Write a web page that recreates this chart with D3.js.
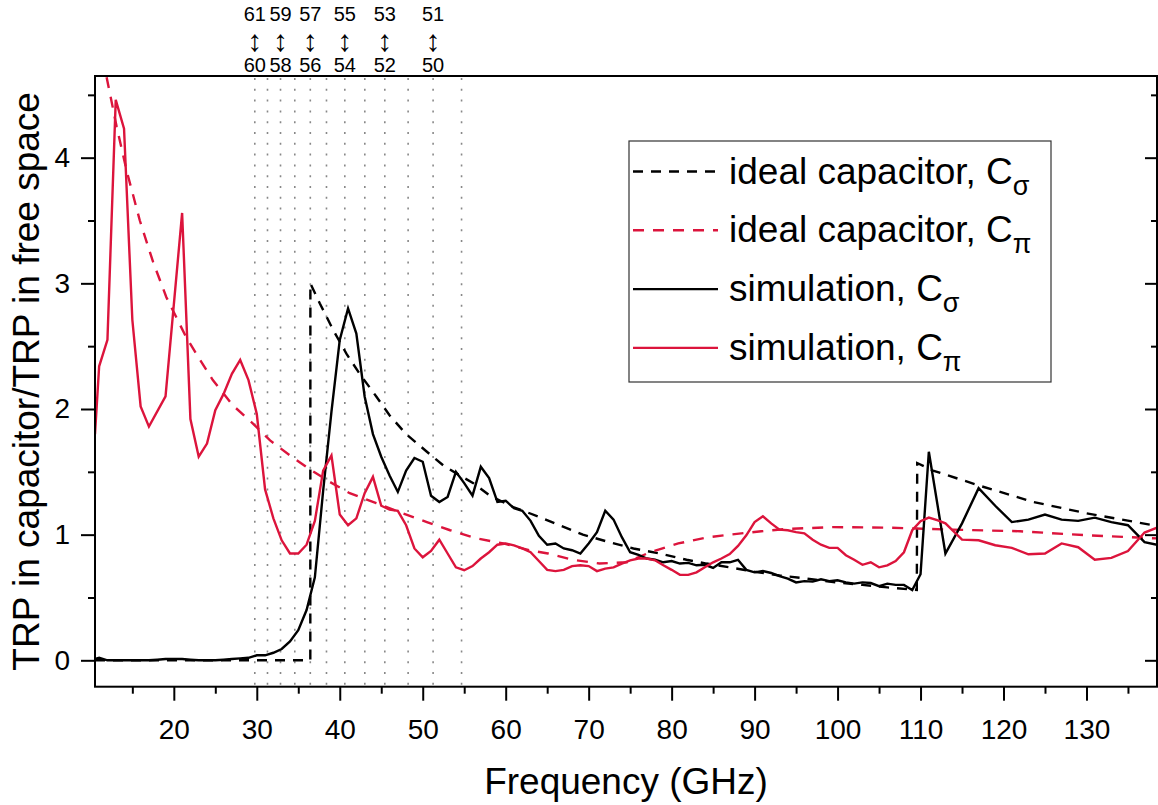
<!DOCTYPE html>
<html><head><meta charset="utf-8">
<script src="https://cdn.jsdelivr.net/npm/d3@7"></script>
<style>body{margin:0;background:#fff} svg text{font-family:"Liberation Sans",Arial,sans-serif;fill:#000}</style>
</head><body><svg id="c" width="1158" height="805"></svg>
<script>
// ---------- data ----------
const idealSigmaFreq = [10.5, 20, 30, 36.45, 36.46, 37.6, 39.2, 40.8, 42.4, 44.4, 46.0, 48.0, 50.5, 52.5, 54.5, 56.1, 58.1, 60.9, 64.1, 66.5, 69.3, 72.5, 75.4, 78.6, 81.8, 84.2, 87.0, 90, 93, 96.3, 99.9, 103, 106, 109.55, 109.6, 111.5, 117.1, 123.6, 130.0, 138.5];
const idealSigmaVal  = [0, 0, 0, 0, 3.0, 2.84, 2.63, 2.44, 2.28, 2.10, 1.95, 1.80, 1.66, 1.55, 1.47, 1.41, 1.31, 1.22, 1.14, 1.075, 1.0, 0.94, 0.89, 0.85, 0.80, 0.77, 0.74, 0.705, 0.675, 0.65, 0.62, 0.60, 0.58, 0.56, 1.57, 1.51, 1.39, 1.26, 1.17, 1.07];

const idealPiFreq = [10.5, 11.9, 13.1, 14.3, 15.9, 17.5, 19.1, 21.5, 22.7, 24.7, 27.1, 29.6, 31.6, 34.0, 36.4, 38.8, 41.2, 44.4, 47.6, 50.5, 53.3, 56.5, 59.7, 62.9, 65.1, 68.1, 71.3, 74.6, 77.4, 80.8, 84.2, 87.0, 90.8, 93.8, 99.5, 105.9, 113.9, 122, 130, 138.5];
const idealPiVal  = [5.27, 4.64, 4.25, 3.90, 3.50, 3.17, 2.89, 2.57, 2.44, 2.23, 2.03, 1.88, 1.75, 1.63, 1.52, 1.42, 1.33, 1.25, 1.17, 1.10, 1.035, 0.97, 0.93, 0.876, 0.85, 0.80, 0.77, 0.78, 0.86, 0.93, 0.977, 1.0, 1.027, 1.045, 1.06, 1.056, 1.04, 1.027, 0.995, 0.97];

const simSigmaFreq = [10.5, 11, 12, 13, 14, 15, 16, 17, 18, 19, 20, 21, 22, 23, 24, 25, 26, 27, 28, 29, 30, 31, 32, 33, 34, 35, 36, 37, 38, 39, 40, 41, 42, 43, 44, 45, 46, 47, 48, 49, 50, 51, 52, 53, 54, 55, 56, 57, 58, 59, 60, 61, 62, 63, 64, 65, 66, 67, 68, 69, 70, 71, 72, 73, 74, 75, 76, 77, 78, 79, 80, 81, 82, 83, 84, 85, 86, 87, 88, 89, 90, 91, 92, 93, 94, 95, 96, 97, 98, 99, 100, 101, 102, 103, 104, 105, 106, 107, 108, 109, 110, 111, 113, 115, 117, 119, 121, 123, 125, 127, 129, 131, 133, 135, 137, 138.5];
const simSigmaVal  = [0.01, 0.02, 0.0, 0.0, 0.0, 0.0, 0.0, 0.0, 0.005, 0.01, 0.01, 0.01, 0.005, 0.0, 0.0, 0.0, 0.005, 0.01, 0.015, 0.02, 0.04, 0.04, 0.06, 0.09, 0.15, 0.24, 0.40, 0.66, 1.35, 1.98, 2.55, 2.80, 2.60, 2.10, 1.80, 1.62, 1.47, 1.34, 1.51, 1.61, 1.58, 1.31, 1.26, 1.30, 1.50, 1.41, 1.31, 1.54, 1.45, 1.26, 1.27, 1.21, 1.19, 1.11, 0.99, 0.92, 0.93, 0.89, 0.876, 0.85, 0.93, 1.02, 1.19, 1.12, 0.98, 0.86, 0.84, 0.81, 0.80, 0.78, 0.79, 0.77, 0.775, 0.756, 0.76, 0.735, 0.78, 0.78, 0.80, 0.72, 0.70, 0.71, 0.695, 0.67, 0.65, 0.62, 0.63, 0.626, 0.645, 0.63, 0.637, 0.62, 0.61, 0.62, 0.615, 0.59, 0.61, 0.60, 0.60, 0.56, 0.685, 1.66, 0.85, 1.09, 1.37, 1.23, 1.10, 1.12, 1.16, 1.12, 1.11, 1.135, 1.10, 1.075, 0.94, 0.92];

const simPiFreq = [10.5, 11, 12, 13, 14, 15, 16, 17, 19, 21, 22, 23, 24, 25, 26, 27, 28, 29, 30, 31, 32, 33, 34, 35, 36, 37, 38, 39, 40, 41, 42, 43, 44, 45, 46, 47, 48, 49, 50, 51, 52, 53, 54, 55, 56, 57, 58, 59, 60, 61, 62, 63, 64, 65, 66, 67, 68, 69, 70, 71, 72, 73, 74, 75, 76, 77, 78, 79, 80, 81, 82, 83, 84, 85, 86, 87, 88, 89, 90, 91, 92, 93, 94, 95, 96, 97, 98, 99, 100, 101, 102, 103, 104, 105, 106, 107, 108, 109, 110, 111, 112, 113, 115, 117, 119, 121, 123, 125, 127, 129, 131, 133, 135, 137, 138.5];
const simPiVal  = [1.8, 2.34, 2.55, 4.46, 4.23, 2.71, 2.02, 1.86, 2.10, 3.56, 1.92, 1.62, 1.725, 1.99, 2.12, 2.28, 2.39, 2.23, 1.96, 1.36, 1.13, 0.955, 0.85, 0.85, 0.92, 1.11, 1.51, 1.63, 1.16, 1.075, 1.13, 1.33, 1.46, 1.23, 1.20, 1.19, 1.075, 0.89, 0.82, 0.87, 0.96, 0.85, 0.74, 0.717, 0.75, 0.81, 0.86, 0.92, 0.93, 0.915, 0.89, 0.86, 0.79, 0.72, 0.71, 0.72, 0.75, 0.756, 0.75, 0.71, 0.73, 0.74, 0.77, 0.796, 0.81, 0.81, 0.796, 0.756, 0.72, 0.68, 0.68, 0.70, 0.74, 0.78, 0.81, 0.845, 0.91, 0.995, 1.10, 1.146, 1.09, 1.04, 1.035, 1.02, 1.01, 0.96, 0.92, 0.895, 0.895, 0.836, 0.80, 0.76, 0.78, 0.74, 0.756, 0.79, 0.86, 1.035, 1.107, 1.136, 1.115, 1.09, 0.96, 0.955, 0.916, 0.895, 0.844, 0.85, 0.93, 0.90, 0.80, 0.815, 0.87, 1.017, 1.056];

const modeFreq = [29.76, 31.29, 32.86, 34.58, 36.45, 38.40, 40.61, 43.02, 45.43, 48.24, 51.25, 54.68];
const modeUpper = ["61", "59", "57", "55", "53", "51"];
const modeLower = ["60", "58", "56", "54", "52", "50"];

const xMajor = [20, 30, 40, 50, 60, 70, 80, 90, 100, 110, 120, 130];
const xMinor = [15, 25, 35, 45, 55, 65, 75, 85, 95, 105, 115, 125, 135];
const yMajor = [0, 1, 2, 3, 4];
const yMinor = [0.5, 1.5, 2.5, 3.5, 4.5];

const legendLabels = [["ideal capacitor, C", "σ"], ["ideal capacitor, C", "π"], ["simulation, C", "σ"], ["simulation, C", "π"]];

// ---------- drawing ----------
const RED = "#dc143c";
const svg = d3.select("#c");
const L = 95, R = 1157, T = 76, B = 686.7;
const x = d3.scaleLinear().domain([10.5, 138.5]).range([L, R]);
const y = d3.scaleLinear().domain([-0.21, 4.65]).range([B, T]);

svg.append("defs").append("clipPath").attr("id", "clip")
  .append("rect").attr("x", L).attr("y", T).attr("width", R - L).attr("height", B - T);

// dotted mode lines
svg.append("g").selectAll("line").data(modeFreq).join("line")
  .attr("x1", d => x(d)).attr("x2", d => x(d)).attr("y1", T + 2).attr("y2", B)
  .attr("stroke", "#888").attr("stroke-width", 1.6).attr("stroke-dasharray", "2,8.8");

const plot = svg.append("g").attr("clip-path", "url(#clip)");
const line = d3.line().x(d => x(d[0])).y(d => y(d[1]));
const zip = (a, b) => a.map((v, i) => [v, b[i]]);

const series = [
  {d: zip(idealSigmaFreq, idealSigmaVal), c: "#000", dash: "10,8"},
  {d: zip(idealPiFreq, idealPiVal), c: RED, dash: "11,9"},
  {d: zip(simSigmaFreq, simSigmaVal), c: "#000", dash: null},
  {d: zip(simPiFreq, simPiVal), c: RED, dash: null}
];
series.forEach(s => {
  plot.append("path").attr("d", line(s.d)).attr("fill", "none")
    .attr("stroke", s.c).attr("stroke-width", 2.4)
    .attr("stroke-linejoin", "miter").attr("stroke-dasharray", s.dash);
});

// axes
function styleAxis(g) {
  g.select(".domain").remove();
  g.selectAll("line").attr("stroke", "#000").attr("stroke-width", 2);
  g.selectAll("text").attr("font-size", 28).attr("font-family", '"Liberation Sans",Arial,sans-serif');
}
svg.append("g").attr("transform", `translate(0,${B})`)
  .call(d3.axisBottom(x).tickValues(xMajor).tickSize(14).tickPadding(18).tickFormat(d3.format("d"))).call(styleAxis);
svg.append("g").attr("transform", `translate(0,${B})`)
  .call(d3.axisBottom(x).tickValues(xMinor).tickSize(7).tickFormat("")).call(styleAxis);
svg.append("g").attr("transform", `translate(${L},0)`)
  .call(d3.axisLeft(y).tickValues(yMajor).tickSize(14).tickPadding(11).tickFormat(d3.format("d"))).call(styleAxis);
svg.append("g").attr("transform", `translate(${L},0)`)
  .call(d3.axisLeft(y).tickValues(yMinor).tickSize(7).tickFormat("")).call(styleAxis);
svg.append("g").attr("transform", `translate(${R},0)`)
  .call(d3.axisRight(y).tickValues(yMajor).tickSize(-12).tickFormat("")).call(styleAxis);
svg.append("g").attr("transform", `translate(${R},0)`)
  .call(d3.axisRight(y).tickValues(yMinor).tickSize(-6).tickFormat("")).call(styleAxis);

// frame
svg.append("rect").attr("x", L).attr("y", T).attr("width", R - L).attr("height", B - T)
  .attr("fill", "none").attr("stroke", "#000").attr("stroke-width", 2);

// titles
svg.append("text").attr("x", (L + R) / 2).attr("y", 794).attr("text-anchor", "middle")
  .attr("font-size", 37).text("Frequency (GHz)");
svg.append("text").attr("transform", `translate(39,${(T + B) / 2}) rotate(-90)`)
  .attr("text-anchor", "middle").attr("font-size", 37).text("TRP in capacitor/TRP in free space");

// top mode annotations
const ann = svg.append("g");
modeUpper.forEach((t, i) => {
  const xx = x(modeFreq[i * 2]);
  ann.append("text").attr("x", xx).attr("y", 21).attr("font-size", 20).attr("text-anchor", "middle").text(t);
  ann.append("text").attr("x", xx).attr("y", 51).attr("font-size", 30).attr("text-anchor", "middle")
    .style("font-family", '"Liberation Sans", Arial, sans-serif').style("fill", "#000").text("\u2195");
  ann.append("text").attr("x", xx).attr("y", 72).attr("font-size", 20).attr("text-anchor", "middle").text(modeLower[i]);
});

// legend
const lg = svg.append("g");
lg.append("rect").attr("x", 629).attr("y", 141).attr("width", 422).attr("height", 241)
  .attr("fill", "#fff").attr("stroke", "#333").attr("stroke-width", 1.2);
legendLabels.forEach((lab, i) => {
  const by = 183.5 + i * 58.8;
  const s = series[i];
  lg.append("line").attr("x1", 633).attr("x2", 718).attr("y1", by - 12).attr("y2", by - 12)
    .attr("stroke", s.c).attr("stroke-width", 2.4).attr("stroke-dasharray", s.dash);
  const t = lg.append("text").attr("x", 729).attr("y", by).attr("font-size", 37);
  t.append("tspan").text(lab[0]);
  t.append("tspan").attr("font-size", 27).attr("dy", 11).text(lab[1]);
});
</script></body></html>
